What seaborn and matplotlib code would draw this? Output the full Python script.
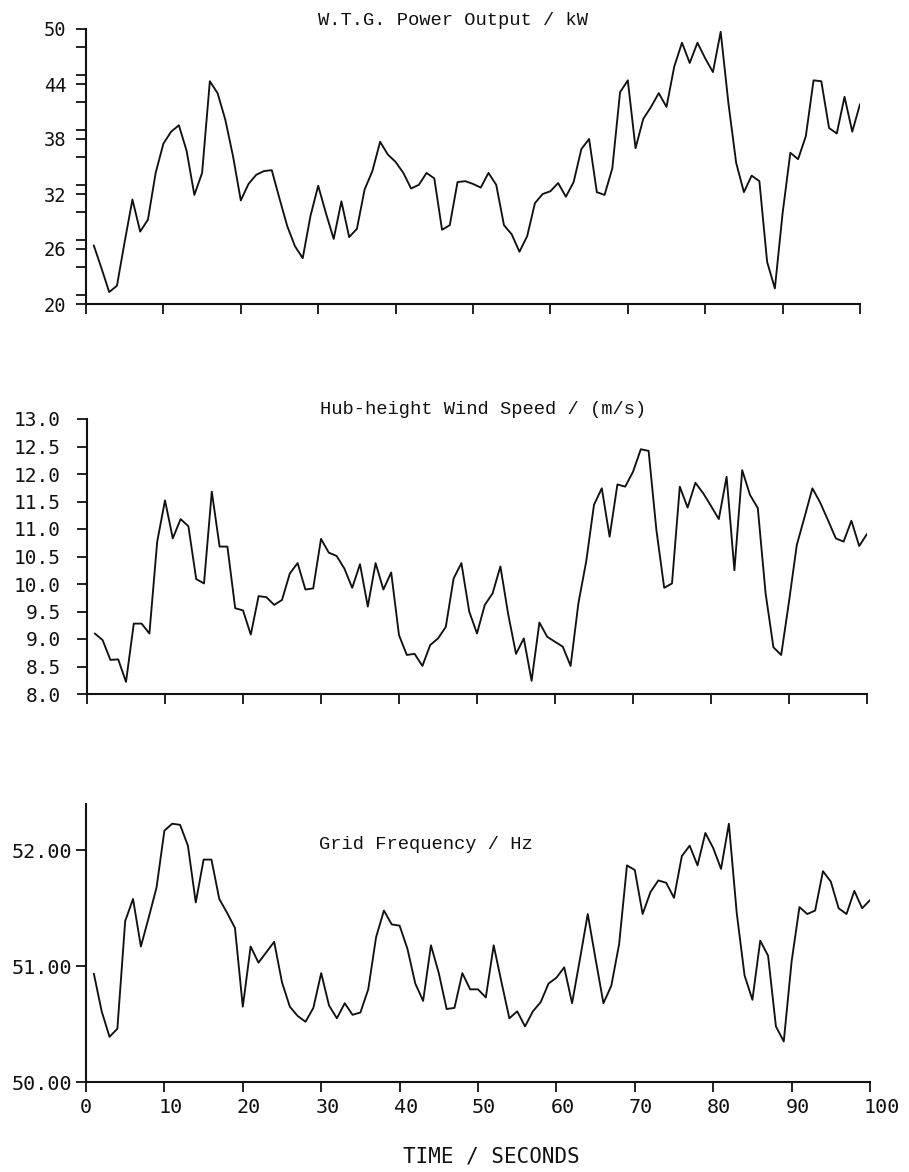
import numpy as np
import pandas as pd
import matplotlib
matplotlib.use("Agg")
import matplotlib.pyplot as plt
import matplotlib.transforms as mtransforms
import seaborn as sns
from matplotlib.ticker import MultipleLocator, FixedLocator

# ---------------- data ----------------
time_s = list(range(1, 101))

power_kw = [26.4, 23.9, 21.3, 22.0, 26.8, 31.4, 27.9, 29.2, 34.3, 37.5,
            38.8, 39.5, 36.7, 31.9, 34.3, 44.3, 43.0, 40.1, 36.1, 31.3,
            33.1, 34.1, 34.5, 34.6, 31.5, 28.5, 26.3, 25.0, 29.6, 32.9,
            29.9, 27.1, 31.2, 27.3, 28.2, 32.5, 34.5, 37.7, 36.3, 35.5,
            34.3, 32.6, 33.0, 34.3, 33.7, 28.1, 28.6, 33.3, 33.4, 33.1,
            32.7, 34.3, 33.0, 28.6, 27.6, 25.7, 27.4, 31.0, 32.0, 32.3,
            33.2, 31.7, 33.3, 36.9, 38.0, 32.2, 31.9, 34.8, 43.1, 44.4,
            37.0, 40.2, 41.5, 43.0, 41.5, 45.9, 48.5, 46.3, 48.5, 46.8,
            45.3, 49.7, 41.9, 35.4, 32.2, 34.0, 33.4, 24.6, 21.7, 29.9,
            36.5, 35.8, 38.3, 44.4, 44.3, 39.2, 38.6, 42.6, 38.8, 41.8]

wind_ms = [9.10, 8.98, 8.62, 8.63, 8.22, 9.28, 9.28, 9.10, 10.77, 11.52,
           10.83, 11.18, 11.05, 10.09, 10.01, 11.68, 10.68, 10.68, 9.56, 9.52,
           9.08, 9.78, 9.76, 9.62, 9.71, 10.19, 10.38, 9.90, 9.92, 10.82,
           10.57, 10.51, 10.28, 9.93, 10.36, 9.59, 10.38, 9.90, 10.21, 9.07,
           8.71, 8.73, 8.51, 8.89, 9.01, 9.22, 10.10, 10.38, 9.50, 9.10,
           9.62, 9.83, 10.32, 9.45, 8.73, 9.01, 8.24, 9.30, 9.04, 8.95,
           8.86, 8.51, 9.65, 10.41, 11.44, 11.74, 10.86, 11.81, 11.77, 12.04,
           12.45, 12.42, 10.98, 9.93, 10.01, 11.77, 11.39, 11.84, 11.65, 11.42,
           11.18, 11.95, 10.25, 12.07, 11.62, 11.38, 9.83, 8.85, 8.71, 9.68,
           10.71, 11.22, 11.74, 11.48, 11.16, 10.83, 10.77, 11.15, 10.69, 10.91]

grid_hz = [50.935, 50.61, 50.39, 50.46, 51.39, 51.58, 51.17, 51.42, 51.68, 52.17,
           52.23, 52.22, 52.04, 51.55, 51.92, 51.92, 51.58, 51.46, 51.33, 50.65,
           51.17, 51.03, 51.12, 51.21, 50.86, 50.65, 50.57, 50.52, 50.64, 50.94,
           50.66, 50.55, 50.68, 50.58, 50.60, 50.80, 51.25, 51.48, 51.36, 51.35,
           51.15, 50.85, 50.70, 51.18, 50.94, 50.63, 50.64, 50.94, 50.80, 50.80,
           50.73, 51.18, 50.86, 50.55, 50.61, 50.48, 50.61, 50.69, 50.85, 50.90,
           50.99, 50.68, 51.06, 51.45, 51.06, 50.68, 50.83, 51.19, 51.87, 51.83,
           51.45, 51.64, 51.74, 51.72, 51.59, 51.95, 52.04, 51.87, 52.15, 52.02,
           51.84, 52.23, 51.46, 50.92, 50.71, 51.22, 51.09, 50.48, 50.35, 51.04,
           51.51, 51.45, 51.48, 51.82, 51.73, 51.50, 51.45, 51.65, 51.50, 51.57]

titles = ["W.T.G. Power Output / kW",
          "Hub-height Wind Speed / (m/s)",
          "Grid Frequency / Hz"]
x_ticks = list(range(0, 101, 10))
power_ticks = [20, 26, 32, 38, 44, 50]
wind_ticks = [8.0, 8.5, 9.0, 9.5, 10.0, 10.5, 11.0, 11.5, 12.0, 12.5, 13.0]
grid_ticks = [50.0, 51.0, 52.0]
x_label = "TIME / SECONDS"

# ---------------- style ----------------
sns.set_theme(style="ticks")
plt.rcParams['font.family'] = ['DejaVu Sans']
plt.rcParams['axes.linewidth'] = 1.5

W, H = 909, 1172
fig = plt.figure(figsize=(W / 100, H / 100), dpi=100)
fig.patch.set_facecolor("white")

def frac_rect(x0, x1, ytop, ybot):
    return [x0 / W, 1 - ybot / H, (x1 - x0) / W, (ybot - ytop) / H]

ax1 = fig.add_axes(frac_rect(86, 860, 29, 304))
ax2 = fig.add_axes(frac_rect(87, 867, 419, 694))
ax3 = fig.add_axes(frac_rect(86, 870, 804, 1082))

df = pd.DataFrame({"t": time_s, "power": power_kw, "wind": wind_ms, "grid": grid_hz})

ink = "#111111"
line_kw = dict(color=ink, linewidth=1.35)
sns.lineplot(data=df, x="t", y="power", ax=ax1, **line_kw)
sns.lineplot(data=df, x="t", y="wind", ax=ax2, **line_kw)
sns.lineplot(data=df, x="t", y="grid", ax=ax3, **line_kw)

mono = "Liberation Mono"
tick_font = "DejaVu Sans Mono"

for ax in (ax1, ax2, ax3):
    ax.set_facecolor("white")
    ax.set_xlim(0, 100)
    ax.set_xlabel("")
    ax.set_ylabel("")
    for s in ("top", "right"):
        ax.spines[s].set_visible(False)
    for s in ("left", "bottom"):
        ax.spines[s].set_color(ink)
    ax.xaxis.set_major_locator(FixedLocator(x_ticks))
    ax.tick_params(axis="both", which="both", direction="out", color=ink,
                   width=1.3, labelcolor=ink, length=7)

# top panel
ax1.set_ylim(20, 50)
ax1.yaxis.set_major_locator(FixedLocator(power_ticks))
ax1.yaxis.set_minor_locator(MultipleLocator(3))
ax1.tick_params(axis="y", which="minor", length=7, width=1.3)
ax1.set_yticklabels([str(v) for v in power_ticks], fontfamily=tick_font, fontsize=13.5)
ax1.tick_params(axis="y", pad=7)
ax1.set_xticklabels([])
ax1.text(0.474, 1.03, titles[0], transform=ax1.transAxes, ha="center", va="center",
         fontfamily=mono, fontsize=13.5, color=ink)

# middle panel
ax2.set_ylim(8.0, 13.0)
ax2.yaxis.set_major_locator(FixedLocator(wind_ticks))
ax2.set_yticklabels([f"{v:.1f}" for v in wind_ticks], fontfamily=tick_font, fontsize=14)
ax2.tick_params(axis="y", pad=12)
ax2.set_xticklabels([])
ax2.text(0.508, 1.036, titles[1], transform=ax2.transAxes, ha="center", va="center",
         fontfamily=mono, fontsize=13.5, color=ink)

# bottom panel
ax3.set_ylim(50.0, 52.4)
ax3.yaxis.set_major_locator(FixedLocator(grid_ticks))
ax3.set_yticklabels([f"{v:.2f}" for v in grid_ticks], fontfamily=tick_font, fontsize=14.5)
ax3.tick_params(axis="y", pad=3)
ax3.set_xticklabels([str(v) for v in x_ticks], fontfamily=tick_font, fontsize=14.5)
ax3.tick_params(axis="x", pad=4.5)
shift = mtransforms.ScaledTranslation(-6 / 100, 0, fig.dpi_scale_trans)
for lab in ax3.get_xticklabels():
    lab.set_horizontalalignment("left")
    lab.set_transform(lab.get_transform() + shift)
ax3.text(0.434, 0.853, titles[2], transform=ax3.transAxes, ha="center", va="center",
         fontfamily=mono, fontsize=13.5, color=ink)

fig.text(491 / W, 1 - 1156 / H, x_label, ha="center", va="center",
         fontfamily=tick_font, fontsize=15, color=ink)

fig.savefig("out.png", dpi=100, facecolor="white")
